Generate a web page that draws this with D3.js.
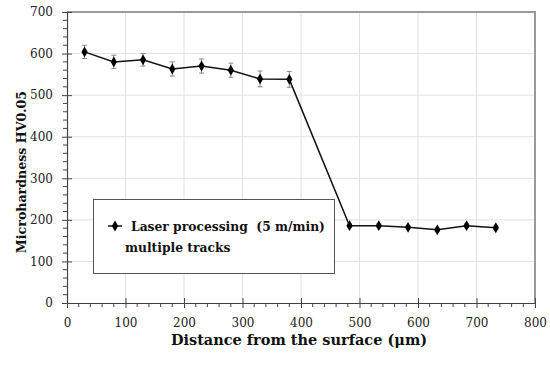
<!DOCTYPE html>
<html lang="en">
<head>
  <meta charset="UTF-8" />
  <title>Microhardness vs distance</title>
  <style>
    body { margin: 0; background: #fff; }
    svg { display: block; }
    .tick text { font-family: 'DejaVu Serif', serif; font-size: 12px; fill: #222; }
    .axis-title { font-family: 'DejaVu Serif', serif; font-weight: bold; fill: #111; }
    .legend text { font-family: 'DejaVu Serif', serif; font-weight: bold; font-size: 12.3px; fill: #111; }
  </style>
</head>
<body>
  <svg id="chart" width="550" height="365"></svg>
  <script src="https://d3js.org/d3.v7.min.js"></script>
  <script>
    // data
    const distance = [30, 80, 130, 180, 230, 280, 330, 380, 483, 533, 583, 633, 683, 733];
    const hardness = [604, 580, 585, 563, 570, 560, 539, 538, 186, 186, 182, 176, 186, 181];
    const errors   = [16, 16, 15, 17, 17, 17, 19, 19, 4, 4, 4, 4, 4, 4];
    const xTicks = [0, 100, 200, 300, 400, 500, 600, 700, 800];
    const yTicks = [0, 100, 200, 300, 400, 500, 600, 700];

    const svg = d3.select("#chart");
    const margin = { top: 12, right: 15, bottom: 62, left: 67 };
    const width = 550 - margin.left - margin.right;
    const height = 365 - margin.top - margin.bottom;

    const g = svg.append("g").attr("transform", `translate(${margin.left},${margin.top})`);

    const x = d3.scaleLinear().domain([0, 800]).range([0, width]);
    const y = d3.scaleLinear().domain([0, 700]).range([height, 0]);

    // gridlines
    g.append("g").selectAll("line").data(yTicks.slice(1, -1)).enter().append("line")
      .attr("x1", 0).attr("x2", width)
      .attr("y1", d => y(d)).attr("y2", d => y(d))
      .attr("stroke", "#e2e2e2").attr("stroke-width", 1);
    g.append("g").selectAll("line").data(xTicks.slice(1, -1)).enter().append("line")
      .attr("y1", 0).attr("y2", height)
      .attr("x1", d => x(d)).attr("x2", d => x(d))
      .attr("stroke", "#e2e2e2").attr("stroke-width", 1);

    // top / right frame
    g.append("path")
      .attr("d", `M0,0H${width}V${height}`)
      .attr("fill", "none").attr("stroke", "#9a9a9a").attr("stroke-width", 2);

    // minor ticks
    const minorX = d3.range(0, 801, 20).filter(v => v % 100 !== 0);
    const minorY = d3.range(0, 701, 20).filter(v => v % 100 !== 0);
    g.append("g").selectAll("line").data(minorX).enter().append("line")
      .attr("x1", d => x(d)).attr("x2", d => x(d))
      .attr("y1", height).attr("y2", height + 4)
      .attr("stroke", "#444");
    g.append("g").selectAll("line").data(minorY).enter().append("line")
      .attr("y1", d => y(d)).attr("y2", d => y(d))
      .attr("x1", -4).attr("x2", 0)
      .attr("stroke", "#444");

    // axes
    const xAxis = g.append("g")
      .attr("transform", `translate(0,${height})`)
      .call(d3.axisBottom(x).tickValues(xTicks).tickSize(5).tickPadding(10).tickSizeOuter(0));
    xAxis.selectAll(".tick line").attr("y1", -5).attr("stroke", "#444");
    xAxis.select(".domain").attr("stroke", "#444").attr("stroke-width", 1.2);

    const yAxis = g.append("g")
      .call(d3.axisLeft(y).tickValues(yTicks).tickSize(5).tickPadding(9).tickSizeOuter(0));
    yAxis.selectAll(".tick line").attr("x1", 5).attr("stroke", "#444");
    yAxis.select(".domain").attr("stroke", "#444").attr("stroke-width", 1.2);

    // axis titles
    svg.append("text").attr("class", "axis-title")
      .attr("x", margin.left + x(400) - 2).attr("y", 345)
      .attr("text-anchor", "middle").attr("font-size", 14.5)
      .text("Distance from the surface (\u03bcm)");
    svg.append("text").attr("class", "axis-title")
      .attr("transform", "translate(26,172) rotate(-90)")
      .attr("text-anchor", "middle").attr("font-size", 12.6)
      .text("Microhardness HV0.05");

    const pts = distance.map((d, i) => ({ x: d, y: hardness[i], e: errors[i] }));

    // error bars
    const eb = g.append("g").attr("stroke", "#8a8a8a").attr("stroke-width", 1);
    pts.forEach(p => {
      eb.append("line").attr("x1", x(p.x)).attr("x2", x(p.x))
        .attr("y1", y(p.y - p.e)).attr("y2", y(p.y + p.e));
      [p.y - p.e, p.y + p.e].forEach(v => {
        eb.append("line").attr("x1", x(p.x) - 2.5).attr("x2", x(p.x) + 2.5)
          .attr("y1", y(v)).attr("y2", y(v));
      });
    });

    // line + markers
    g.append("path").datum(pts)
      .attr("fill", "none").attr("stroke", "#111").attr("stroke-width", 1.5)
      .attr("d", d3.line().x(d => x(d.x)).y(d => y(d.y)));
    const diamond = d3.symbol().type(d3.symbolDiamond).size(34);
    g.append("g").selectAll("path").data(pts).enter().append("path")
      .attr("d", diamond)
      .attr("transform", d => `translate(${x(d.x)},${y(d.y)})`)
      .attr("fill", "#000");

    // legend
    const lg = svg.append("g").attr("class", "legend");
    lg.append("rect").attr("x", 93.5).attr("y", 199.5).attr("width", 241).attr("height", 74)
      .attr("fill", "#fff").attr("stroke", "#555").attr("stroke-width", 1);
    lg.append("line").attr("x1", 108).attr("x2", 122).attr("y1", 226).attr("y2", 226)
      .attr("stroke", "#111").attr("stroke-width", 1.5);
    lg.append("path").attr("d", diamond).attr("transform", "translate(115,226)").attr("fill", "#000");
    lg.append("text").attr("x", 131).attr("y", 231).attr("xml:space", "preserve")
      .text("Laser processing  (5 m/min)");
    lg.append("text").attr("x", 125).attr("y", 252).text("multiple tracks");
  </script>
</body>
</html>
